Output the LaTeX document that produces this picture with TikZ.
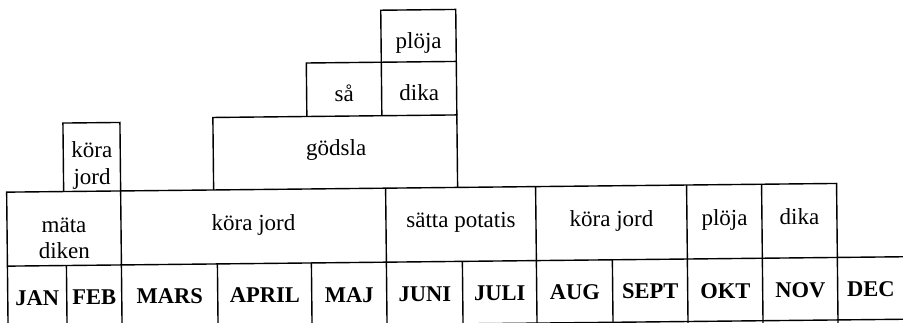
\documentclass[tikz,border=0pt]{standalone}
\usepackage{fontspec}
\setmainfont{Liberation Serif}
\begin{document}
\begin{tikzpicture}[x=1pt,y=-1pt,line width=1.4pt,
  txt/.style={inner sep=0pt,anchor=base,font=\fontsize{23}{26}\selectfont},
  mon/.style={inner sep=0pt,anchor=base,font=\fontsize{22.5}{26}\selectfont\bfseries}]
\useasboundingbox (0,0) rectangle (903,323);
\begin{scope}[rotate around={0.6:(450,225)}]
% upper boxes
\draw (64,187.5) -- (64,119) -- (121,119) -- (121,187.5);
\draw (214,187.5) -- (214,115) -- (458,115) -- (458,187.5);
\draw (308,115) -- (308,61.5) -- (458,61.5);
\draw (383,115) -- (383,9.5) -- (458,9.5) -- (458,115);
% main row
\draw (7,330) -- (7,187.5) -- (837,187.5) -- (837,330);
\draw (7,261.5) -- (915,261.5);
\draw (0,324) -- (915,324);
\foreach \x in {121,386,536,687,762} \draw (\x,187.5) -- (\x,330);
\foreach \x in {66,217,311,462,612} \draw (\x,261.5) -- (\x,330);
% texts upper
\node[txt] (ploja1) at (420.5,47.7) {plöja};
\node[txt] (sa) at (345.5,100) {så};
\node[txt] (dika1) at (420.5,100) {dika};
\node[txt] (godsla) at (337,154) {gödsla};
\node[txt] (kora1) at (92.5,154) {köra};
\node[txt] (jord1) at (92.5,181) {jord};
% main row texts
\node[txt] (mata) at (64,228) {mäta};
\node[txt] (diken) at (64,254) {diken};
\node[txt] (korajord1) at (253.5,228) {köra jord};
\node[txt] (satta) at (461,228) {sätta potatis};
\node[txt] (korajord2) at (611.5,228) {köra jord};
\node[txt] (ploja2) at (724.5,228) {plöja};
\node[txt] (dika2) at (799.5,228) {dika};
% months
\node[mon] (jan) at (36.5,301) {JAN};
\node[mon] (feb) at (93.5,301) {FEB};
\node[mon] (mars) at (169,301) {MARS};
\node[mon] (april) at (264,301) {APRIL};
\node[mon] (maj) at (348.5,301) {MAJ};
\node[mon] (juni) at (424,301) {JUNI};
\node[mon] (juli) at (499,301) {JULI};
\node[mon] (aug) at (574,301) {AUG};
\node[mon] (sept) at (649.5,301) {SEPT};
\node[mon] (okt) at (724.5,301) {OKT};
\node[mon] (nov) at (799.5,301) {NOV};
\node[mon] (dec) at (870,301) {DEC};
\end{scope}
\end{tikzpicture}
\end{document}
